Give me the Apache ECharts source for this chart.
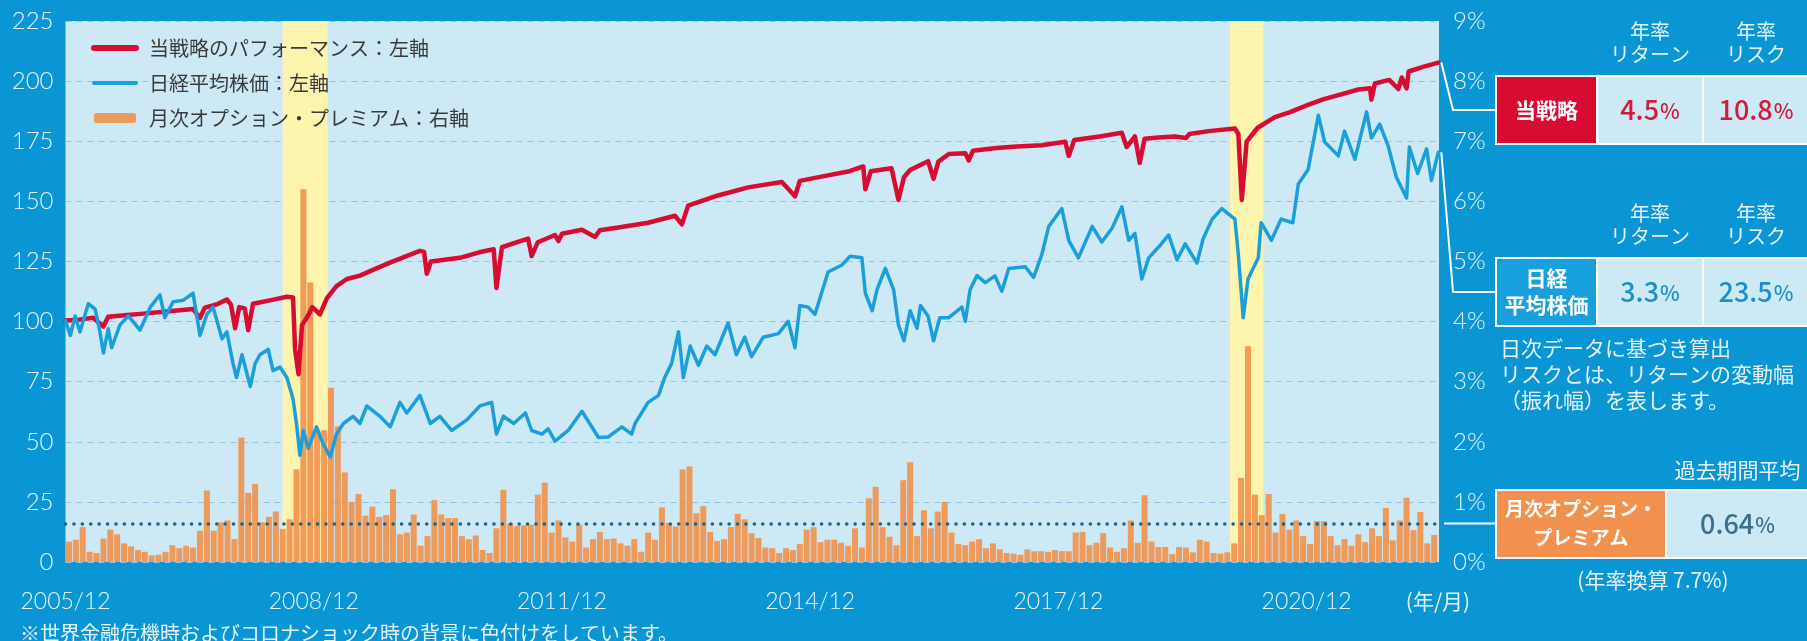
<!DOCTYPE html>
<html>
<head>
<meta charset="utf-8">
<script src="https://cdn.jsdelivr.net/npm/echarts@6/dist/echarts.min.js"></script>
<style>
  html, body { margin: 0; padding: 0; background: #0a96d4; }
  #chart { width: 1807px; height: 641px; }
</style>
</head>
<body>
<div id="chart"></div>
<script>
// x values are months counted from 2005/12
var tickLabels = ['2005/12', '2008/12', '2011/12', '2014/12', '2017/12', '2020/12'];

// 当戦略のパフォーマンス (left axis)
var strategy = [
  [0, 100.4], [2, 100.8], [4, 101.6], [5.5, 97.9], [6.2, 102], [9, 102.7], [11.3, 103.3], [15, 104.3],
  [18.5, 105.2], [19.5, 101.5], [20.2, 105.8], [21.9, 107.1], [23.4, 109.2], [24, 107], [24.6, 97.2],
  [25.2, 106], [26, 105.5], [26.5, 96.4], [27.2, 107.4], [30, 109], [32.1, 110.3], [33, 110], [33.3, 88.4],
  [33.8, 78.1], [34.3, 98.6], [35, 101.6], [35.8, 106], [36.9, 103], [37.9, 109.6], [39.3, 114.7],
  [40.8, 117.7], [42.7, 119.1], [45.1, 122.1], [47.5, 125], [51.4, 129.4], [52, 129], [52.4, 119.9],
  [53, 125], [57.2, 126.5], [60, 128.8], [62.1, 130.1], [62.5, 114], [63.3, 130.9], [65.5, 133],
  [67.1, 134.5], [67.6, 127.2], [68.5, 133], [71, 136], [71.5, 133.5], [72, 136.5], [74.9, 138.2],
  [76.8, 135.2], [77.5, 138], [79.7, 138.9], [84.5, 141.1], [88.4, 144], [89.4, 140.4], [90.3, 148.2],
  [94.2, 152.1], [97.1, 154.3], [99, 155.8], [103.9, 158], [105.8, 152.1], [106.5, 158.5], [110, 160.5],
  [113.5, 162.4], [115.7, 164.5], [116, 155], [116.8, 162.5], [119.8, 163.8], [120.8, 150.6], [121.6, 160],
  [122.5, 163], [125.1, 166.7], [125.9, 159.4], [126.6, 166.5], [128.1, 169.7], [130.5, 170], [131, 167],
  [131.6, 171], [135, 172.2], [138, 172.8], [141.6, 173.3], [145, 174.8], [145.5, 168.9], [146.3, 175.5],
  [150, 177], [153.2, 178.5], [153.9, 172.6], [155.1, 177], [155.8, 166], [156.5, 176], [158.5, 176.5],
  [160.9, 177], [162.5, 176.3], [163, 178], [165.8, 179.2], [169.6, 180.3], [170.1, 178], [170.6, 150.6],
  [171.3, 174.8], [172.9, 180.6], [175.4, 185], [177.5, 187], [180.2, 190.1], [182.5, 192.5], [185, 194.5],
  [187.5, 196.5], [189.2, 197], [189.4, 192.3], [189.9, 199], [192, 200.5], [193.3, 196.7], [193.8, 201.5],
  [194.5, 197], [194.8, 204], [197, 206], [199.1, 207.7]
];

// 日経平均株価 (left axis)
var nikkei = [
  [0, 100.4], [0.7, 94.2], [1.4, 102.3], [2.1, 95.7], [3.3, 107.4], [4.3, 105.2], [5, 95.7], [5.5, 86.9],
  [6.2, 97], [6.7, 89.1], [7.9, 98.6], [9.1, 102.3], [9.8, 100], [10.8, 96.4], [12.3, 106], [13.7, 111.1],
  [14.4, 101.6], [15.6, 108.2], [17.1, 108.9], [18.5, 111.8], [19.5, 94.2], [20.5, 103], [21.4, 106],
  [22.7, 92.8], [23.4, 95.7], [24.3, 82.5], [24.8, 76.7], [25.6, 86.2], [26.8, 73], [27.5, 82.5],
  [28.2, 86.2], [29.4, 88.4], [30.1, 79.6], [31.1, 81.1], [32.1, 76.7], [33, 67.9], [33.5, 57.6],
  [34, 44.4], [34.5, 54.7], [35.2, 47.3], [36.4, 56.2], [37.4, 48.9], [38.4, 43.7], [39.3, 53.2],
  [40.3, 57.6], [41.7, 60.6], [42.7, 57.6], [43.7, 64.9], [45.6, 60.6], [47.1, 56.2], [48.5, 66.4],
  [49.5, 62], [51.4, 69.3], [52.9, 57.6], [54.3, 60.6], [56, 54.7], [58.2, 59.1], [60.1, 64.9],
  [61.8, 66.4], [62.5, 53.2], [63.5, 60.6], [65, 57.6], [66.7, 62], [67.6, 54.7], [69.1, 53.2],
  [70, 55.4], [71, 50.3], [72.9, 54.7], [74.9, 62.7], [77.3, 51.8], [78.7, 52], [80.7, 56.2], [82.1, 53.2],
  [82.6, 57.6], [84.5, 66.4], [86, 69.3], [86.9, 76.7], [87.9, 82.5], [88.9, 95.7], [89.6, 76.7],
  [90.6, 89.8], [91.8, 81.8], [93, 89.8], [94.2, 86.2], [96.1, 99.4], [97.3, 86.2], [98.5, 93.5],
  [99.5, 85.4], [101.2, 93.5], [103.4, 95], [104.8, 100.1], [105.8, 89.1], [106.5, 106.7], [107.7, 106],
  [108.7, 103], [110.6, 120.6], [112.6, 123.5], [113.8, 127.2], [115.5, 126.5], [116, 111.8], [117, 104.5],
  [117.7, 113.3], [118.9, 122.1], [120.1, 113.3], [120.8, 98.6], [121.6, 92], [122.5, 104.5], [123.5, 97.2],
  [124, 106.7], [125.1, 102.3], [125.9, 92], [126.8, 101.6], [128.1, 101.6], [130, 106], [130.5, 100.1],
  [131.2, 113.3], [132.2, 119.1], [133.4, 116.2], [134.8, 119], [135.8, 112.6], [136.8, 122.1],
  [139.2, 122.8], [140.4, 118.4], [141.6, 127.9], [142.6, 139.6], [144.5, 147], [145.5, 133.8],
  [146.9, 126.5], [148.9, 139.6], [150.3, 133.1], [151.8, 138.9], [153.2, 147.7], [154.2, 133.8],
  [155.1, 136.7], [156.1, 117.7], [157.1, 126.5], [158.5, 130.9], [160, 136], [161.2, 125.7],
  [162.4, 132.3], [164.1, 124.3], [165, 134.5], [166.3, 142.6], [167.7, 147], [169.6, 142.6],
  [170.1, 127.9], [170.8, 101.6], [171.5, 117.7], [173, 126.5], [173.4, 141.1], [174.9, 133.8],
  [176.3, 142.6], [178, 141.1], [178.8, 157.2], [180.2, 163.1], [181.7, 185.8], [182.6, 174.8],
  [184.6, 168.9], [185.5, 179.2], [187, 167.5], [188.7, 187.2], [189.4, 176.3], [190.6, 182.1],
  [191.8, 173.3], [193, 160.1], [194.5, 151.4], [194.9, 172.6], [196.1, 161.6], [197.4, 171.8],
  [198.1, 158.7], [199.1, 170.4]
];

// 月次オプション・プレミアム (%), one value per month from 2005/12
var premium = [
  0.34, 0.37, 0.58, 0.17, 0.15, 0.39, 0.54, 0.46, 0.31, 0.26, 0.2, 0.17, 0.11, 0.12, 0.17, 0.28,
  0.23, 0.27, 0.24, 0.52, 1.19, 0.52, 0.66, 0.69, 0.38, 2.07, 1.15, 1.3, 0.66, 0.75, 0.84, 0.55,
  0.71, 1.54, 6.2, 4.65, 2.19, 2.19, 2.9, 2.26, 1.49, 1.0, 1.13, 0.77, 0.92, 0.75, 0.78, 1.21,
  0.46, 0.49, 0.79, 0.27, 0.43, 1.03, 0.79, 0.73, 0.73, 0.43, 0.38, 0.44, 0.2, 0.15, 0.56, 1.2,
  0.64, 0.6, 0.61, 0.62, 1.12, 1.32, 0.49, 0.69, 0.41, 0.34, 0.62, 0.24, 0.38, 0.5, 0.38, 0.39,
  0.31, 0.27, 0.38, 0.17, 0.49, 0.37, 0.91, 0.65, 0.59, 1.54, 1.59, 0.81, 0.93, 0.5, 0.35, 0.38,
  0.58, 0.8, 0.71, 0.48, 0.4, 0.24, 0.23, 0.15, 0.23, 0.2, 0.3, 0.54, 0.58, 0.33, 0.37, 0.37,
  0.32, 0.27, 0.56, 0.24, 1.06, 1.25, 0.58, 0.42, 0.28, 1.36, 1.66, 0.43, 0.86, 0.56, 0.84, 1.0,
  0.49, 0.3, 0.28, 0.34, 0.38, 0.23, 0.31, 0.21, 0.15, 0.14, 0.12, 0.21, 0.18, 0.18, 0.17, 0.2,
  0.18, 0.18, 0.49, 0.5, 0.28, 0.32, 0.48, 0.24, 0.17, 0.23, 0.69, 0.32, 1.11, 0.34, 0.25, 0.25,
  0.13, 0.25, 0.24, 0.16, 0.37, 0.34, 0.15, 0.14, 0.16, 0.31, 1.4, 3.59, 1.12, 0.78, 1.13, 0.49,
  0.8, 0.54, 0.69, 0.43, 0.3, 0.68, 0.68, 0.43, 0.28, 0.38, 0.27, 0.46, 0.33, 0.56, 0.43, 0.9,
  0.36, 0.69, 1.07, 0.53, 0.83, 0.31, 0.45
];
var premiumAvg = 0.64;

// 世界金融危機 / コロナショック (months)
var shadedPeriods = [[31.5, 38.0], [168.9, 173.7]];

var names = ['当戦略のパフォーマンス：左軸', '日経平均株価：左軸', '月次オプション・プレミアム：右軸'];

var stats = [
  { label: '当戦略', ret: '4.5', risk: '10.8' },
  { label: '日経\n平均株価', ret: '3.3', risk: '23.5' }
];
var avgLabel = '0.64';
var annualNote = '(年率換算 7.7%)';

var BG = '#0a96d4';
var PLOT_BG = '#cde9f6';
var LIGHT = '#e8f4fb';
var JP = '"Noto Sans CJK JP", "Noto Sans", sans-serif';
var NUM = 'Lato, "Noto Sans", sans-serif';

var chart = echarts.init(document.getElementById('chart'));

chart.setOption({
  backgroundColor: BG,
  animation: false,
  grid: {
    left: 65.5, right: 368, top: 21, bottom: 79,
    show: true, backgroundColor: PLOT_BG, borderWidth: 0
  },
  legend: {
    orient: 'vertical', left: 86, top: 33,
    itemWidth: 42, itemHeight: 10, itemGap: 15,
    data: [
      { name: names[0], itemStyle: { opacity: 0 }, lineStyle: { width: 6, cap: 'round' } },
      { name: names[1], itemStyle: { opacity: 0 }, lineStyle: { width: 4, cap: 'round' } },
      { name: names[2] }
    ],
    textStyle: { fontSize: 20, color: '#3a3a3a', fontFamily: JP, padding: [0, 0, 0, 8] }
  },
  xAxis: {
    type: 'value', min: 0, max: 199.2, interval: 36,
    axisLine: { show: false }, axisTick: { show: false }, splitLine: { show: false },
    axisLabel: {
      color: LIGHT, fontSize: 23, fontFamily: NUM, fontWeight: 300, margin: 28,
      showMaxLabel: false,
      formatter: function (v) { var i = Math.round(v / 36); return (v % 36 === 0 && tickLabels[i]) ? tickLabels[i] : ''; }
    }
  },
  yAxis: [{
    type: 'value', min: 0, max: 225, interval: 25,
    axisLine: { show: false }, axisTick: { show: false },
    axisLabel: { color: LIGHT, fontSize: 24, fontFamily: NUM, fontWeight: 300, margin: 12 },
    splitLine: { lineStyle: { color: '#90c5e8', width: 1.2, type: [6, 5] } }
  }, {
    type: 'value', min: 0, max: 9, interval: 1,
    axisLine: { show: false }, axisTick: { show: false }, splitLine: { show: false },
    axisLabel: { color: LIGHT, fontSize: 24, fontFamily: NUM, fontWeight: 300, margin: 14, formatter: '{value}%' }
  }],
  series: [{
    name: 'shade', type: 'line', data: [], z: 1, silent: true,
    markArea: {
      silent: true,
      itemStyle: { color: '#fdf4ad' },
      data: shadedPeriods.map(function (p) { return [{ xAxis: p[0] }, { xAxis: p[1] }]; })
    }
  }, {
    name: names[2], type: 'bar', yAxisIndex: 1, z: 2, barWidth: 6,
    itemStyle: { color: '#f0924f', opacity: 0.92 },
    data: premium.map(function (v, i) { return [i + 0.5, v]; }),
    markLine: {
      silent: true, symbol: 'none', label: { show: false },
      lineStyle: { color: '#1f6384', width: 3.5, type: [0.1, 8.3], cap: 'round' },
      data: [{ yAxis: premiumAvg }]
    }
  }, {
    name: names[0], type: 'line', z: 3, showSymbol: false, symbol: 'none',
    color: '#d70c32',
    lineStyle: { color: '#d70c32', width: 4.5, cap: 'round', join: 'round' },
    data: strategy
  }, {
    name: names[1], type: 'line', z: 4, showSymbol: false, symbol: 'none',
    color: '#1a9fda',
    lineStyle: { color: '#1a9fda', width: 3.5, cap: 'round', join: 'round' },
    data: nikkei
  }]
});

// ---- side table & annotations ----
var X0 = 1496, X1 = 1597, X2 = 1703, XE = 1809;

function cell(x, y, w, h, fill) {
  return { type: 'rect', silent: true, z: 10, shape: { x: x, y: y, width: w, height: h },
    style: { fill: fill, stroke: '#ffffff', lineWidth: 2 } };
}
function txt(x, y, text, st) {
  var style = { text: text, fill: LIGHT, fontSize: 20, fontFamily: JP, align: 'center', verticalAlign: 'middle' };
  for (var k in st) style[k] = st[k];
  return { type: 'text', silent: true, z: 11, x: x, y: y, style: style };
}
function pct(x, y, num, color) {
  return txt(x, y, '{n|' + num + '}{p|%}', {
    fill: color,
    rich: {
      n: { fontSize: 27, fontFamily: JP, fontWeight: 500, fill: color },
      p: { fontSize: 21, fontFamily: JP, fontWeight: 500, fill: color, padding: [3, 0, 0, 1] }
    }
  });
}
function line(points) {
  return { type: 'polyline', silent: true, z: 9, shape: { points: points },
    style: { stroke: '#ffffff', lineWidth: 2, fill: null } };
}

var endS = chart.convertToPixel({ xAxisIndex: 0, yAxisIndex: 0 }, strategy[strategy.length - 1]);
var endN = chart.convertToPixel({ xAxisIndex: 0, yAxisIndex: 0 }, nikkei[nikkei.length - 1]);
var avgP = chart.convertToPixel({ xAxisIndex: 0, yAxisIndex: 1 }, [199.2, premiumAvg]);

var rowY = [76, 258];
var els = [];
rowY.forEach(function (y, r) {
  var mid = y + 34;
  els.push(txt((X1 + X2) / 2, y - 33, '年率\nリターン', { lineHeight: 23 }));
  els.push(txt((X2 + XE) / 2, y - 33, '年率\nリスク', { lineHeight: 23 }));
  els.push(cell(X0, y, X1 - X0, 68, r === 0 ? '#d70c30' : '#18a0dc'));
  els.push(cell(X1, y, X2 - X1, 68, PLOT_BG));
  els.push(cell(X2, y, XE - X2, 68, PLOT_BG));
  els.push(txt((X0 + X1) / 2, mid, stats[r].label, { fill: '#ffffff', fontSize: 21, fontWeight: 'bold', lineHeight: 27 }));
  var c = r === 0 ? '#d31a3b' : '#1c8fcc';
  els.push(pct((X1 + X2) / 2, mid, stats[r].ret, c));
  els.push(pct((X2 + XE) / 2, mid, stats[r].risk, c));
});
els.push(line([[endS[0] + 3, endS[1]], [1453, 110], [X0, 110]]));
els.push(line([[endN[0] + 3, endN[1]], [1453, 292], [X0, 292]]));

els.push(txt(1500, 335, '日次データに基づき算出\nリスクとは、リターンの変動幅\n（振れ幅）を表します。',
  { align: 'left', verticalAlign: 'top', fontSize: 21, lineHeight: 26 }));

var XO = 1666;
els.push(txt((XO + XE) / 2, 470, '過去期間平均', { fontSize: 21 }));
els.push(cell(X0, 490, XO - X0, 68, '#f2914d'));
els.push(cell(XO, 490, XE - XO, 68, PLOT_BG));
els.push(txt((X0 + XO) / 2, 523, '月次オプション・\nプレミアム', { fill: '#ffffff', fontSize: 19, fontWeight: 'bold', lineHeight: 29 }));
els.push(pct((XO + XE) / 2, 524, avgLabel, '#3b6f8a'));
els.push(txt(1653, 580, annualNote, { fontSize: 21 }));
els.push(line([[avgP[0] + 5, avgP[1]], [X0, avgP[1]]]));

els.push(txt(1438, 601, '(年/月)', { fontSize: 21 }));
els.push(txt(20, 633, '※世界金融危機時およびコロナショック時の背景に色付けをしています。',
  { align: 'left', fontSize: 20 }));

chart.setOption({ graphic: els });
</script>
</body>
</html>
